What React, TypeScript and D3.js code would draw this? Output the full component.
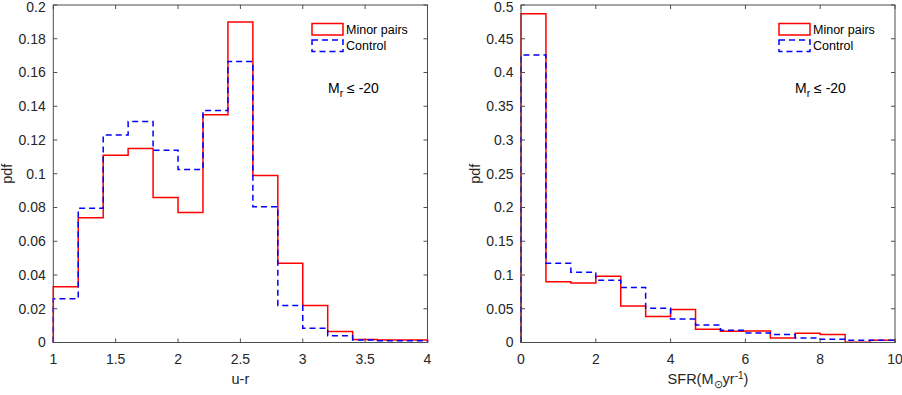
import React from 'react';
import * as d3 from 'd3';

// u-r histogram (bin width 0.2 from 1 to 4)
const urEdges = [1, 1.2, 1.4, 1.6, 1.8, 2, 2.2, 2.4, 2.6, 2.8, 3, 3.2, 3.4, 3.6, 3.8, 4];
const urMinor = [0.033, 0.074, 0.111, 0.115, 0.086, 0.077, 0.135, 0.19, 0.099, 0.047, 0.022, 0.0065, 0.0018, 0.0015, 0.0015];
const urControl = [0.026, 0.0795, 0.123, 0.131, 0.114, 0.1025, 0.1375, 0.1665, 0.0805, 0.022, 0.0085, 0.004, 0.0015, 0.001, 0.001];
const urXTicks = [1, 1.5, 2, 2.5, 3, 3.5, 4];
const urYTicks = [0, 0.02, 0.04, 0.06, 0.08, 0.1, 0.12, 0.14, 0.16, 0.18, 0.2];

// SFR histogram (15 bins from 0 to 10)
const sfrEdges = [0, 0.667, 1.333, 2, 2.667, 3.333, 4, 4.667, 5.333, 6, 6.667, 7.333, 8, 8.667, 9.333, 10];
const sfrMinor = [0.487, 0.09, 0.088, 0.098, 0.054, 0.0385, 0.049, 0.0197, 0.0167, 0.017, 0.0068, 0.0138, 0.012, 0.0005, 0.0035];
const sfrControl = [0.426, 0.1175, 0.104, 0.0923, 0.0815, 0.0508, 0.035, 0.026, 0.018, 0.0142, 0.012, 0.0068, 0.005, 0.0035, 0.0035];
const sfrXTicks = [0, 2, 4, 6, 8, 10];
const sfrYTicks = [0, 0.05, 0.1, 0.15, 0.2, 0.25, 0.3, 0.35, 0.4, 0.45, 0.5];

const seriesNames = ['Minor pairs', 'Control'];

const FONT = '"Liberation Sans", Arial, Helvetica, sans-serif';
const AX = '#4d4d4d';
const TXT = '#262626';

const fmt = (d: number) => String(+d.toFixed(2));

const stairPath = (edges: number[], vals: number[], x: d3.ScaleLinear<number, number>, y: d3.ScaleLinear<number, number>) => {
  const pts: [number, number][] = [[edges[0], 0]];
  vals.forEach((v, i) => pts.push([edges[i], v]));
  pts.push([edges[edges.length - 1], vals[vals.length - 1]]);
  pts.push([edges[edges.length - 1], 0]);
  return d3.line<[number, number]>()
    .x(d => x(d[0]))
    .y(d => y(d[1]))
    .curve(d3.curveStepAfter)(pts) || '';
};

type PanelProps = {
  left: number;
  right: number;
  edges: number[];
  minor: number[];
  control: number[];
  xTicks: number[];
  yTicks: number[];
  xLabel: React.ReactNode;
  legendX: number;
};

const TOP = 5;
const BOTTOM = 342.5;

const Panel = ({ left, right, edges, minor, control, xTicks, yTicks, xLabel, legendX }: PanelProps) => {
  const x = d3.scaleLinear().domain([edges[0], edges[edges.length - 1]]).range([left, right]);
  const y = d3.scaleLinear().domain([0, yTicks[yTicks.length - 1]]).range([BOTTOM, TOP]);
  const tl = 4;
  const ylx = left - 41;

  return (
    <g fontFamily={FONT}>
      {/* series */}
      <path d={stairPath(edges, minor, x, y)} fill="none" stroke="#ff0000" strokeWidth={1.5} />
      <path d={stairPath(edges, control, x, y)} fill="none" stroke="#0000ff" strokeWidth={1.5} strokeDasharray="6,4" />

      {/* box */}
      <rect x={left} y={TOP} width={right - left} height={BOTTOM - TOP} fill="none" stroke={AX} strokeWidth={1} />

      {/* x ticks */}
      {xTicks.map(t => (
        <g key={'x' + t}>
          <line x1={x(t)} x2={x(t)} y1={BOTTOM} y2={BOTTOM - tl} stroke={AX} />
          <line x1={x(t)} x2={x(t)} y1={TOP} y2={TOP + tl} stroke={AX} />
          <text x={x(t)} y={BOTTOM + 21} textAnchor="middle" fontSize={14} fill={TXT}>{fmt(t)}</text>
        </g>
      ))}

      {/* y ticks */}
      {yTicks.map(t => (
        <g key={'y' + t}>
          <line x1={left} x2={left + tl} y1={y(t)} y2={y(t)} stroke={AX} />
          <line x1={right} x2={right - tl} y1={y(t)} y2={y(t)} stroke={AX} />
          <text x={left - 7.5} y={Math.max(y(t), 7.5)} dy="0.35em" textAnchor="end" fontSize={14} fill={TXT}>{fmt(t)}</text>
        </g>
      ))}

      {/* axis labels */}
      <text x={ylx} y={(TOP + BOTTOM) / 2} transform={`rotate(-90, ${ylx}, ${(TOP + BOTTOM) / 2})`}
        textAnchor="middle" fontSize={14.5} fill={TXT}>pdf</text>
      <text x={(left + right) / 2} y={BOTTOM + 41} textAnchor="middle" fontSize={14.5} fill={TXT}>{xLabel}</text>

      {/* legend */}
      <rect x={legendX} y={23.5} width={31} height={11.5} fill="none" stroke="#ff0000" strokeWidth={1.5} />
      <rect x={legendX} y={40} width={31} height={11.5} fill="none" stroke="#0000ff" strokeWidth={1.5} strokeDasharray="6,4" />
      <text x={legendX + 34} y={29.5} dy="0.35em" fontSize={12.5} fill="#000">{seriesNames[0]}</text>
      <text x={legendX + 34} y={46} dy="0.35em" fontSize={12.5} fill="#000">{seriesNames[1]}</text>

      {/* annotation */}
      <text x={legendX + 16} y={93} fontSize={14} fill="#000">
        M<tspan dy={4} fontSize={10.5}>r</tspan><tspan dy={-4}> ≤ -20</tspan>
      </text>
    </g>
  );
};

export default function App() {
  return (
    <svg width={902} height={395} style={{ position: 'absolute', left: 0, top: 0, background: '#fff' }}>
      <rect width={902} height={395} fill="#fff" />
      <Panel left={53.3} right={427.5} edges={urEdges} minor={urMinor} control={urControl}
        xTicks={urXTicks} yTicks={urYTicks} xLabel="u-r" legendX={312} />
      <Panel left={521} right={895} edges={sfrEdges} minor={sfrMinor} control={sfrControl}
        xTicks={sfrXTicks} yTicks={sfrYTicks} legendX={779}
        xLabel={<>SFR(M<tspan dy={4} fontSize={10.5}>⊙</tspan><tspan dy={-4}>yr</tspan><tspan dy={-5} fontSize={10}>-1</tspan><tspan dy={5}>)</tspan></>} />
    </svg>
  );
}
